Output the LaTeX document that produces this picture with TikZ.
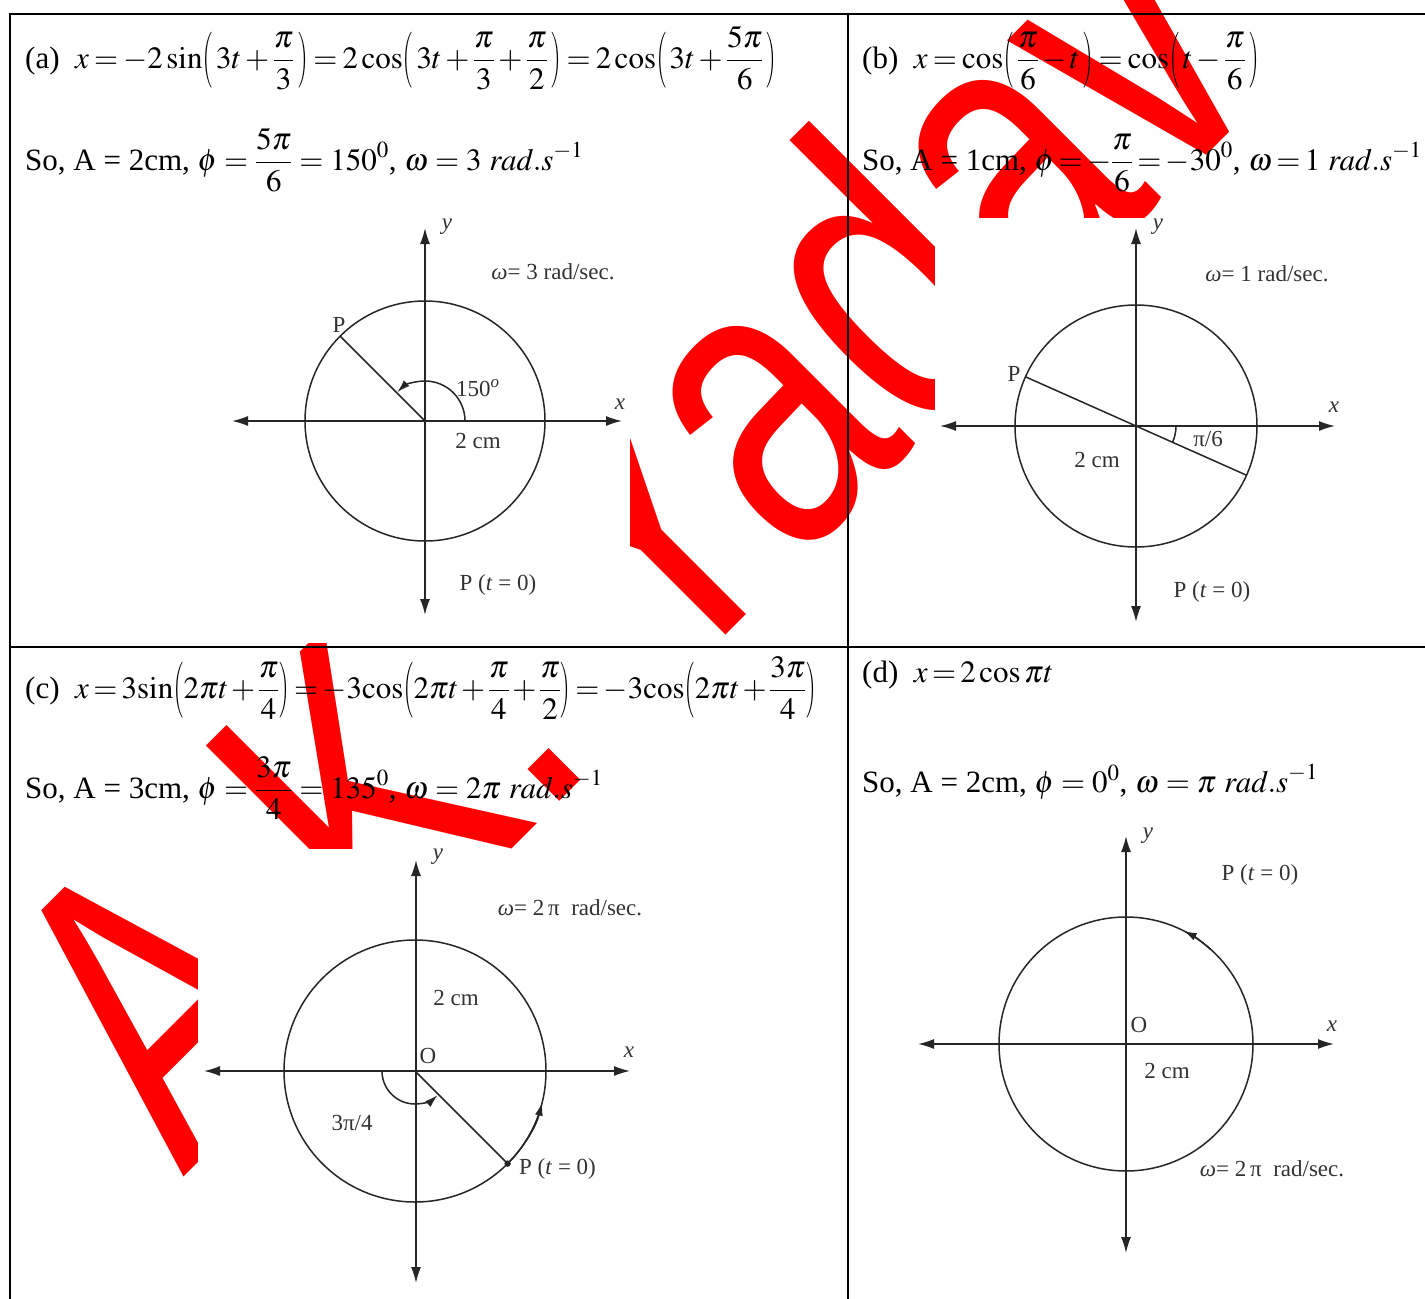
\documentclass[tikz,border=0pt]{standalone}
\usepackage{mathptmx}
\usepackage{fontspec}
\setmainfont{Liberation Serif}
\newfontfamily\wmfont{Liberation Sans}
\usetikzlibrary{arrows.meta}
\newcommand{\tightsp}{\thickmuskip=2.5mu\medmuskip=1.5mu}
\newcommand{\midsp}{\thickmuskip=3mu\medmuskip=2mu}
\newcommand{\loosesp}{\thickmuskip=4mu\medmuskip=3mu}
\newcommand{\LPt}{\mathopen{\scalebox{0.55}[1]{$\displaystyle\left(\vphantom{\frac{\pi}{3}}\right.\kern-1.2pt$}}}
\newcommand{\RPt}{\mathclose{\scalebox{0.55}[1]{$\displaystyle\kern-1.2pt\left.\vphantom{\frac{\pi}{3}}\right)$}}}
\newcommand{\LP}{\LPt\,}
\newcommand{\RP}{\,\RPt}
\tikzset{
  ax/.style={line width=1.5pt, draw=black!85, {Latex[length=16pt,width=10pt]}-{Latex[length=16pt,width=10pt]}},
  circ/.style={line width=1.5pt, draw=black!85},
  arr/.style={line width=1.5pt, draw=black!85, -{Latex[length=13pt,width=8pt]}},
  lbl/.style={inner sep=0pt, text=black!80, font=\fontsize{23}{27}\selectfont},
  eq/.style={anchor=base west, inner sep=0pt, font=\fontsize{31}{37}\selectfont},
  gridline/.style={line width=2pt, draw=black},
  wm/.style={inner sep=0pt, text=red, font=\wmfont\fontsize{420}{420}\selectfont},
  blank/.style={fill=white}
}
\begin{document}
\begin{tikzpicture}[x=1pt,y=-1pt]
\useasboundingbox (0,0) rectangle (1425,1299);
\clip (0,0) rectangle (1425,1299);
\fill[white] (0,0) rectangle (1425,1299);

% watermark
\node[wm, anchor=base west, rotate=45, xscale=0.745] (wmk) at (183,1178) {A.K. Yadav};

% equations
\node[eq] (a1) at (25,68) {(a)\ \ $\displaystyle\midsp x=-2\sin\LP 3t+\frac{\pi}{3}\RP=2\cos\LP 3t+\frac{\pi}{3}+\frac{\pi}{2}\RP=2\cos\LP 3t+\frac{5\pi}{6}\RP$};
\node[eq] (a2) at (25,170) {So, A = 2cm, $\displaystyle\loosesp \phi=\frac{5\pi}{6}=150^{0}$, $\loosesp\omega=3\ \mathit{rad.s}^{-1}$};
\node[eq] (b1) at (862,68) {(b)\ \ $\displaystyle\midsp x=\cos\LP\frac{\pi}{6}-t\RP=\cos\LP t-\frac{\pi}{6}\RP$};
\node[eq] (b2) at (862,170) {So, A = 1cm, $\displaystyle\tightsp \phi=-\frac{\pi}{6}=-30^{0}$, $\tightsp\omega=1\ \mathit{rad.s}^{-1}$};
\node[eq] (c1) at (25,698) {(c)\ \ $\displaystyle\tightsp x=3\mathrm{sin}\LPt 2\pi t+\frac{\pi}{4}\RPt=-3\mathrm{cos}\LPt 2\pi t+\frac{\pi}{4}+\frac{\pi}{2}\RPt=-3\mathrm{cos}\LPt 2\pi t+\frac{3\pi}{4}\RPt$};
\node[eq] (c2) at (25,798) {So, A = 3cm, $\displaystyle\loosesp \phi=\frac{3\pi}{4}=135^{0}$, $\loosesp\omega=2\pi\ \mathit{rad.s}^{-1}$};
\node[eq] (d1) at (862,682) {(d)\ \ $\tightsp x=2\cos\pi t$};
\node[eq] (d2) at (862,792) {So, A = 2cm, $\loosesp\phi=0^{0}$, $\loosesp\omega=\pi\ \mathit{rad.s}^{-1}$};

% picture backgrounds covering the watermark
\fill[blank] (200,212) rectangle (630,643);
\fill[blank] (935,218) rectangle (1350,640);
\fill[blank] (198,849) rectangle (660,1292);

% ---------- diagram (a)
\coordinate (Oa) at (425,421);
\coordinate (aL) at (232,421); \coordinate (aR) at (622,421);
\coordinate (aT) at (425,228); \coordinate (aB) at (425,615);
\coordinate (Pa) at (340.1,336.1);
\draw[ax] (aL) -- (aR);
\draw[ax] (aT) -- (aB);
\draw[circ] (Oa) circle[radius=120];
\draw[circ] (Oa) -- (Pa);
\draw[arr] (465,421) arc[start angle=0, end angle=-134, radius=40];
\node[lbl] (ay) at (447,227) {\textit{y}};
\node[lbl] (ax) at (620,404) {\textit{x}};
\node[lbl] (aw) at (553,272) {\textit{ω}= 3 rad/sec.};
\node[lbl] (aP) at (339,325) {P};
\node[lbl] (aang) at (478,388) {150\textsuperscript{\itshape o}};
\node[lbl] (acm) at (478,441) {2 cm};
\node[lbl] (aP0) at (498,585) {P (\textit{t} = 0)};

% ---------- diagram (b)
\coordinate (Ob) at (1136,426);
\coordinate (bL) at (940,426); \coordinate (bR) at (1335,426);
\coordinate (bT) at (1136,228); \coordinate (bB) at (1136,622);
\coordinate (Pb) at (1025.5,376.8); \coordinate (Qb) at (1246.5,475.2);
\draw[ax] (bL) -- (bR);
\draw[ax] (bT) -- (bB);
\draw[circ] (Ob) circle[radius=121];
\draw[circ] (Pb) -- (Qb);
\draw[circ] (1176,426) arc[start angle=0, end angle=24, radius=40];
\node[lbl] (by) at (1158,227) {\textit{y}};
\node[lbl] (bx) at (1334,407) {\textit{x}};
\node[lbl] (bw) at (1267,274) {\textit{ω}= 1 rad/sec.};
\node[lbl] (bP) at (1014,374) {P};
\node[lbl] (bang) at (1208,439) {π/6};
\node[lbl] (bcm) at (1097,460) {2 cm};
\node[lbl] (bP0) at (1212,592) {P (\textit{t} = 0)};

% ---------- diagram (c)
\coordinate (Oc) at (415,1071);
\coordinate (cL) at (204,1071); \coordinate (cR) at (630,1071);
\coordinate (cT) at (416,860); \coordinate (cB) at (416,1283);
\coordinate (Pc) at (507.6,1163.6);
\draw[ax] (cL) -- (cR);
\draw[ax] (cT) -- (cB);
\draw[circ] (Oc) circle[radius=131];
\draw[circ] (Oc) -- (Pc);
\fill[black!85] (Pc) circle[radius=3.2];
\draw[arr] (Pc) arc[start angle=45, end angle=14, radius=131];
\draw[arr] (382,1071) arc[start angle=180, end angle=47, radius=33];
\node[lbl] (cy) at (438,857) {\textit{y}};
\node[lbl] (cx) at (629,1052) {\textit{x}};
\node[lbl] (cw) at (570,908) {\textit{ω}= 2\,π\ \ rad/sec.};
\node[lbl] (ccm) at (456,998) {2 cm};
\node[lbl] (cO) at (428,1056) {O};
\node[lbl] (cang) at (352,1123) {3π/4};
\node[lbl, anchor=west] (cP0) at (519,1169) {P (\textit{t} = 0)};

% ---------- diagram (d)
\coordinate (Od) at (1126,1044);
\coordinate (dL) at (918,1044); \coordinate (dR) at (1334,1044);
\coordinate (dT) at (1126,836); \coordinate (dB) at (1126,1253);
\draw[ax] (dL) -- (dR);
\draw[ax] (dT) -- (dB);
\draw[circ] (Od) circle[radius=127];
\draw[arr] (1126,1044) ++(-48:127) arc[start angle=-48, end angle=-63, radius=127];
\node[lbl] (dy) at (1148,836) {\textit{y}};
\node[lbl] (dx) at (1332,1026) {\textit{x}};
\node[lbl] (dP0) at (1260,875) {P (\textit{t} = 0)};
\node[lbl] (dO) at (1139,1025) {O};
\node[lbl] (dcm) at (1167,1071) {2 cm};
\node[lbl] (dw) at (1272,1169) {\textit{ω}= 2\,π\ \ rad/sec.};

% ---------- table
\coordinate (tTL) at (10,14); \coordinate (tTR) at (1426,14);
\coordinate (tBL) at (10,1300); \coordinate (tMT) at (848,14);
\coordinate (tMB) at (848,1300); \coordinate (tML) at (10,647);
\coordinate (tMR) at (1426,647);
\draw[gridline] (tBL) -- (tTL) -- (tTR);
\draw[gridline] (tMT) -- (tMB);
\draw[gridline] (tML) -- (tMR);
\end{tikzpicture}
\end{document}
